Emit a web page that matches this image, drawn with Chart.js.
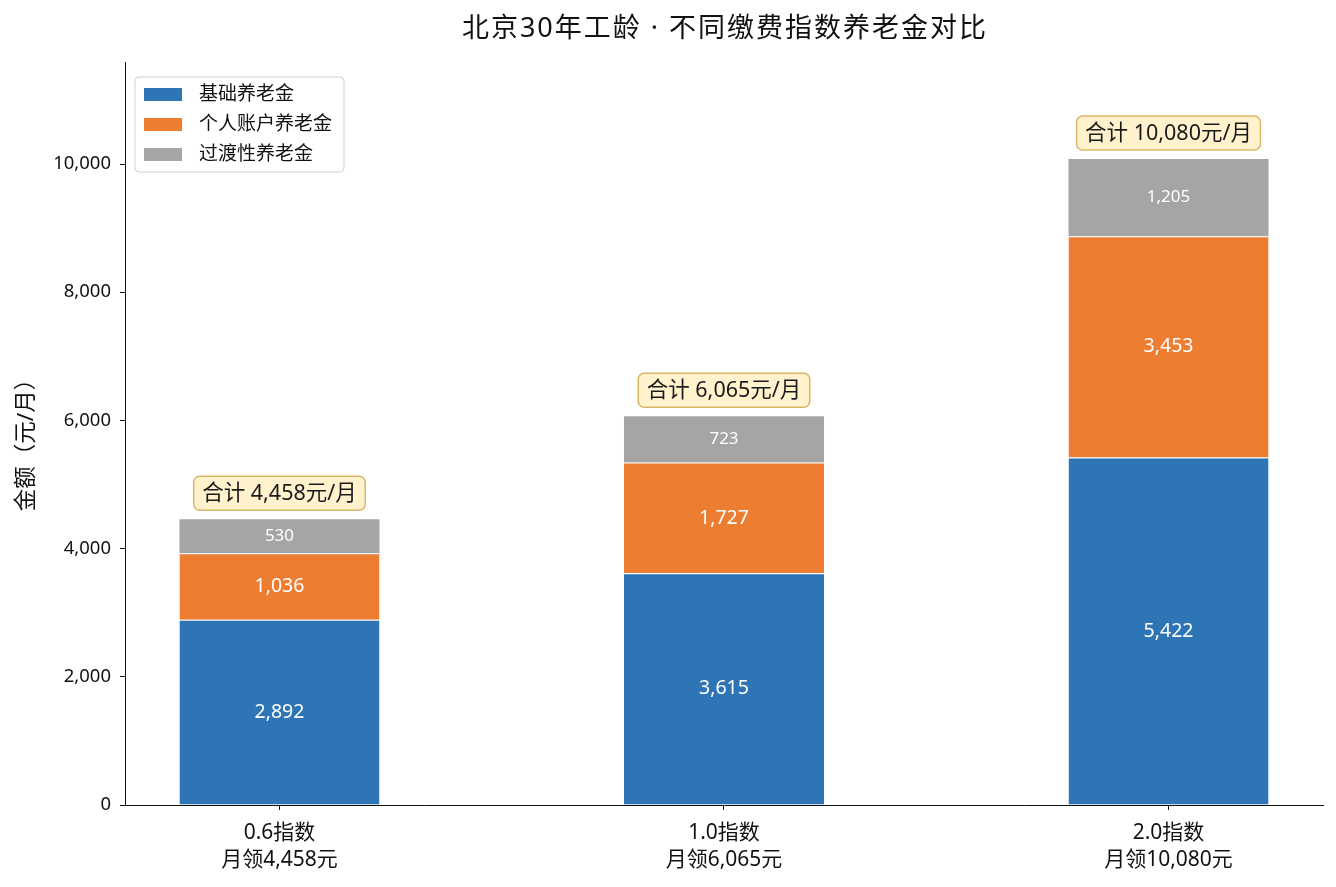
<!DOCTYPE html>
<html>
<head>
<meta charset="utf-8">
<script src="https://cdn.jsdelivr.net/npm/chart.js@4.4.0/dist/chart.umd.min.js"></script>
<style>
  html, body { margin: 0; padding: 0; background: #fff; }
  #wrap { width: 1336px; height: 887px; position: relative; }
</style>
</head>
<body>
<div id="wrap"><canvas id="pension"></canvas></div>
<script>
// data
const categories = ['0.6指数', '1.0指数', '2.0指数'];
const basic_pension = [2892, 3615, 5422];
const personal_pension = [1036, 1727, 3453];
const transition_pension = [530, 723, 1205];
const totals = [4458, 6065, 10080];
const y_ticks = [0, 2000, 4000, 6000, 8000, 10000];
const series_names = ['基础养老金', '个人账户养老金', '过渡性养老金'];
const series_colors = ['#2e75b6', '#ed7d31', '#a5a5a5'];

const FONT = '"Noto Sans", "Noto Sans CJK SC", sans-serif';
const fmt = v => v.toLocaleString('en-US');

function points(arr) {
    return arr.map((v, i) => ({x: i, y: v}));
}

// text on the bars, total boxes, legend, titles
const decorations = {
    id: 'decorations',
    afterDatasetsDraw(chart) {
        const ctx = chart.ctx;
        const area = chart.chartArea;
        ctx.save();
        // value labels
        chart.data.datasets.forEach((ds, di) => {
            const meta = chart.getDatasetMeta(di);
            meta.data.forEach((bar, i) => {
                const cy = (bar.y + bar.base) / 2;
                ctx.fillStyle = '#fff';
                ctx.font = (di == 2 ? '17px ' : '19.5px ') + FONT;
                ctx.textAlign = 'center';
                ctx.textBaseline = 'middle';
                ctx.fillText(fmt(ds.data[i].y), bar.x, cy);
            });
        });
        // total boxes
        const yScale = chart.scales.y;
        const xScale = chart.scales.x;
        totals.forEach((t, i) => {
            const cx = xScale.getPixelForValue(i);
            const cy = yScale.getPixelForValue(t) - 26;
            const txt = '合计 ' + fmt(t) + '元/月';
            ctx.font = '21.5px ' + FONT;
            const w = ctx.measureText(txt).width + 17;
            const h = 34;
            ctx.beginPath();
            ctx.roundRect(cx - w / 2, cy - h / 2, w, h, 6);
            ctx.fillStyle = '#fff2cc';
            ctx.fill();
            ctx.lineWidth = 1.5;
            ctx.strokeStyle = '#d9b865';
            ctx.stroke();
            ctx.fillStyle = '#1a1a1a';
            ctx.textAlign = 'center';
            ctx.textBaseline = 'middle';
            ctx.fillText(txt, cx, cy + 1);
        });
        // legend
        const lx = 135, ly = 77, lw = 209, lh = 95;
        ctx.beginPath();
        ctx.roundRect(lx, ly, lw, lh, 4);
        ctx.fillStyle = 'rgba(255,255,255,0.8)';
        ctx.fill();
        ctx.lineWidth = 1;
        ctx.strokeStyle = '#d0d0d0';
        ctx.stroke();
        series_names.forEach((name, i) => {
            const ry = ly + 17 + i * 30;
            ctx.fillStyle = series_colors[i];
            ctx.fillRect(lx + 9, ry - 6, 38, 13);
            ctx.fillStyle = '#111';
            ctx.font = '19px ' + FONT;
            ctx.textAlign = 'left';
            ctx.textBaseline = 'middle';
            ctx.fillText(name, lx + 64, ry + 1);
        });
        // chart title
        ctx.fillStyle = '#111';
        ctx.font = '27px ' + FONT;
        ctx.letterSpacing = '2px';
        ctx.textAlign = 'center';
        ctx.textBaseline = 'middle';
        ctx.fillText('北京30年工龄 · 不同缴费指数养老金对比', 725, 29);
        ctx.letterSpacing = '0px';
        // y axis title
        ctx.translate(27, (area.top + area.bottom) / 2 + 6);
        ctx.rotate(-Math.PI / 2);
        ctx.font = '22.5px ' + FONT;
        ctx.fillText('金额（元/月）', 0, 0);
        ctx.restore();
    }
};

function build_chart() {
    const data_pension = {
        datasets: [
            {
                label: series_names[0],
                data: points(basic_pension),
                backgroundColor: series_colors[0],
                borderColor: '#fff',
                borderWidth: {top: 1, left: 0, right: 0, bottom: 0},
                borderSkipped: 'bottom'
            },
            {
                label: series_names[1],
                data: points(personal_pension),
                backgroundColor: series_colors[1],
                borderColor: '#fff',
                borderWidth: {top: 1, left: 0, right: 0, bottom: 0},
                borderSkipped: 'bottom'
            },
            {
                label: series_names[2],
                data: points(transition_pension),
                backgroundColor: series_colors[2],
                borderColor: '#fff',
                borderWidth: 0
            }
        ]
    };
    const config_pension = {
        type: 'bar',
        data: data_pension,
        plugins: [decorations],
        options: {
            responsive: false,
            animation: false,
            layout: {padding: {top: 62, right: 13, left: 0, bottom: 0}},
            datasets: {bar: {barPercentage: 0.45, categoryPercentage: 1}},
            plugins: {
                legend: {display: false},
                tooltip: {enabled: false}
            },
            scales: {
                x: {
                    type: 'linear',
                    stacked: true,
                    offset: false,
                    min: -0.3475,
                    max: 2.3475,
                    afterBuildTicks: axis => { axis.ticks = categories.map((c, i) => ({value: i})); },
                    afterFit: axis => { axis.height = 82; },
                    ticks: {
                        color: '#111',
                        font: {family: FONT, size: 21, lineHeight: 1.3},
                        padding: 9,
                        maxRotation: 0,
                        callback: v => [categories[v], '月领' + fmt(totals[v]) + '元']
                    },
                    grid: {offset: false, drawOnChartArea: false, drawTicks: true, tickLength: 5, color: '#111'},
                    border: {display: true, color: '#111', width: 1}
                },
                y: {
                    stacked: true,
                    min: 0,
                    max: 11592,
                    afterBuildTicks: axis => { axis.ticks = y_ticks.map(v => ({value: v})); },
                    afterFit: axis => { axis.width = 125; },
                    ticks: {
                        color: '#111',
                        font: {family: FONT, size: 18.5},
                        padding: 9,
                        callback: v => fmt(v)
                    },
                    grid: {drawOnChartArea: false, drawTicks: true, tickLength: 5, color: '#111'},
                    border: {display: true, color: '#111', width: 1}
                }
            }
        }
    };
    const canvas = document.getElementById('pension');
    canvas.width = 1336;
    canvas.height = 887;
    new Chart(canvas, config_pension);
}
build_chart();
</script>
</body>
</html>
